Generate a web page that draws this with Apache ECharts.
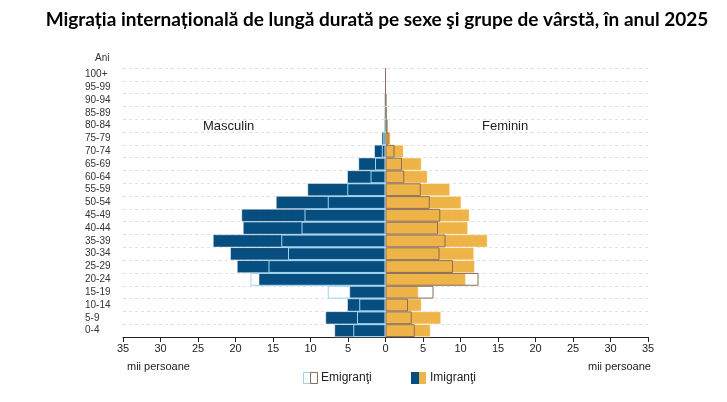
<!DOCTYPE html>
<html lang="ro">
<head>
    <meta charset="UTF-8">
    <title>Migrația internațională</title>
    <style>
        body {
            margin: 0;
            background-color: #fff;
        }

        #chart {
            width: 727px;
            height: 402px;
        }
    </style>
</head>
<body>

    <div id="chart"></div>

    <script src="https://cdn.jsdelivr.net/npm/echarts@6/dist/echarts.min.js"></script>
    <script>

        // grupe de varsta, de jos in sus
        const ageGroups = ['0-4', '5-9', '10-14', '15-19', '20-24', '25-29', '30-34', '35-39', '40-44', '45-49',
            '50-54', '55-59', '60-64', '65-69', '70-74', '75-79', '80-84', '85-89', '90-94', '95-99', '100+'];

        // mii persoane
        const maleImmigrants = [6.8, 8.0, 5.1, 4.8, 16.9, 19.8, 20.7, 23.0, 19.0, 19.2,
            14.6, 10.4, 5.1, 3.6, 1.5, 0.5, 0.15, 0.05, 0.03, 0, 0];
        const maleEmigrants = [4.3, 3.8, 3.5, 7.7, 18.0, 15.6, 13.0, 13.9, 11.2, 10.8,
            7.7, 5.1, 2.0, 1.4, 0.5, 0.3, 0.1, 0.05, 0.02, 0, 0];
        const femaleImmigrants = [6.0, 7.4, 4.8, 4.4, 10.7, 11.9, 11.8, 13.6, 11.0, 11.2,
            10.1, 8.6, 5.6, 4.8, 2.4, 0.7, 0.35, 0.15, 0.05, 0, 0];
        const femaleEmigrants = [3.9, 3.5, 3.0, 6.4, 12.4, 9.0, 7.2, 8.0, 7.0, 7.3,
            5.9, 4.7, 2.5, 2.2, 1.2, 0.4, 0.25, 0.15, 0.1, 0, 0];

        const xTicks = { min: -35, max: 35, step: 5 };

        const chart = echarts.init(document.getElementById('chart'));

        const labelFont = 'Liberation Sans, Arial, sans-serif';

        const option = {
            animation: false,
            title: {
                text: 'Migrația internațională de lungă durată pe sexe şi grupe de vârstă, în anul 2025',
                left: 372,
                top: 5,
                textAlign: 'center',
                textStyle: {
                    fontFamily: 'Lato, sans-serif',
                    fontWeight: 'bold',
                    fontSize: 19,
                    color: '#000',
                },
            },
            grid: {
                left: 123,
                right: 79,
                top: 68,
                bottom: 65,
            },
            xAxis: {
                type: 'value',
                min: xTicks.min,
                max: xTicks.max,
                interval: xTicks.step,
                axisLine: {
                    show: true,
                    lineStyle: { color: '#222', width: 1 },
                },
                axisTick: {
                    show: true,
                    length: 5,
                    lineStyle: { color: '#222' },
                },
                axisLabel: {
                    formatter: v => Math.abs(v),
                    color: '#222',
                    fontSize: 11,
                    fontFamily: labelFont,
                    margin: 6,
                },
                splitLine: { show: false },
            },
            yAxis: {
                type: 'category',
                data: ageGroups,
                axisLine: { show: false },
                axisTick: { show: false },
                axisLabel: {
                    interval: 0,
                    align: 'left',
                    margin: 38,
                    color: '#333',
                    fontSize: 10,
                    fontFamily: labelFont,
                },
                splitLine: {
                    show: true,
                    interval: 0,
                    lineStyle: {
                        type: [3, 3],
                        color: '#e0e0e0',
                        width: 1,
                    },
                },
            },
            graphic: [
                { type: 'line', shape: { x1: 385, y1: 93, x2: 385, y2: 337 }, style: { stroke: '#bbb', lineWidth: 1 }, z: 0 },
                { type: 'text', left: 95, top: 53, style: { text: 'Ani', fontSize: 10, fill: '#333', fontFamily: labelFont } },
                { type: 'text', left: 203, top: 120, style: { text: 'Masculin', fontSize: 13, fill: '#222', fontFamily: labelFont } },
                { type: 'text', left: 482, top: 120, style: { text: 'Feminin', fontSize: 13, fill: '#222', fontFamily: labelFont } },
                { type: 'text', left: 127, top: 361, style: { text: 'mii persoane', fontSize: 11, fill: '#222', fontFamily: labelFont } },
                { type: 'text', left: 588, top: 361, style: { text: 'mii persoane', fontSize: 11, fill: '#222', fontFamily: labelFont } },
                // legenda
                { type: 'rect', shape: { x: 303.5, y: 372.5, width: 7, height: 11 }, style: { fill: '#fff', stroke: '#9fd3ec', lineWidth: 1 } },
                { type: 'rect', shape: { x: 310.5, y: 372.5, width: 7, height: 11 }, style: { fill: '#fff', stroke: '#8a6d5a', lineWidth: 1 } },
                { type: 'text', left: 321, top: 372, style: { text: 'Emigranţi', fontSize: 12, fill: '#222', fontFamily: labelFont } },
                { type: 'rect', shape: { x: 411, y: 372, width: 8, height: 12 }, style: { fill: '#064d80' } },
                { type: 'rect', shape: { x: 419, y: 372, width: 7, height: 12 }, style: { fill: '#efb447' } },
                { type: 'text', left: 430, top: 372, style: { text: 'Imigranţi', fontSize: 12, fill: '#222', fontFamily: labelFont } },
            ],
            series: [
                {
                    name: 'Imigranți bărbați',
                    type: 'bar',
                    data: maleImmigrants.map(v => -v),
                    barCategoryGap: 0,
                    barGap: '-100%',
                    itemStyle: { color: '#064d80', borderColor: '#ffffff', borderWidth: 0.5 },
                    z: 2,
                },
                {
                    name: 'Imigranți femei',
                    type: 'bar',
                    data: femaleImmigrants,
                    barCategoryGap: 0,
                    barGap: '-100%',
                    itemStyle: { color: '#efb447', borderColor: '#ffffff', borderWidth: 0.5 },
                    z: 2,
                },
                {
                    name: 'Emigranți bărbați',
                    type: 'bar',
                    data: maleEmigrants.map(v => -v),
                    barCategoryGap: 0,
                    barGap: '-100%',
                    itemStyle: { color: 'rgba(0,0,0,0)', borderColor: '#9fd3ec', borderWidth: 1 },
                    z: 3,
                },
                {
                    name: 'Emigranți femei',
                    type: 'bar',
                    data: femaleEmigrants,
                    barCategoryGap: 0,
                    barGap: '-100%',
                    itemStyle: { color: 'rgba(0,0,0,0)', borderColor: '#8a6d5a', borderWidth: 1 },
                    z: 3,
                },
            ],
        };

        chart.setOption(option);

    </script>
</body>
</html>
